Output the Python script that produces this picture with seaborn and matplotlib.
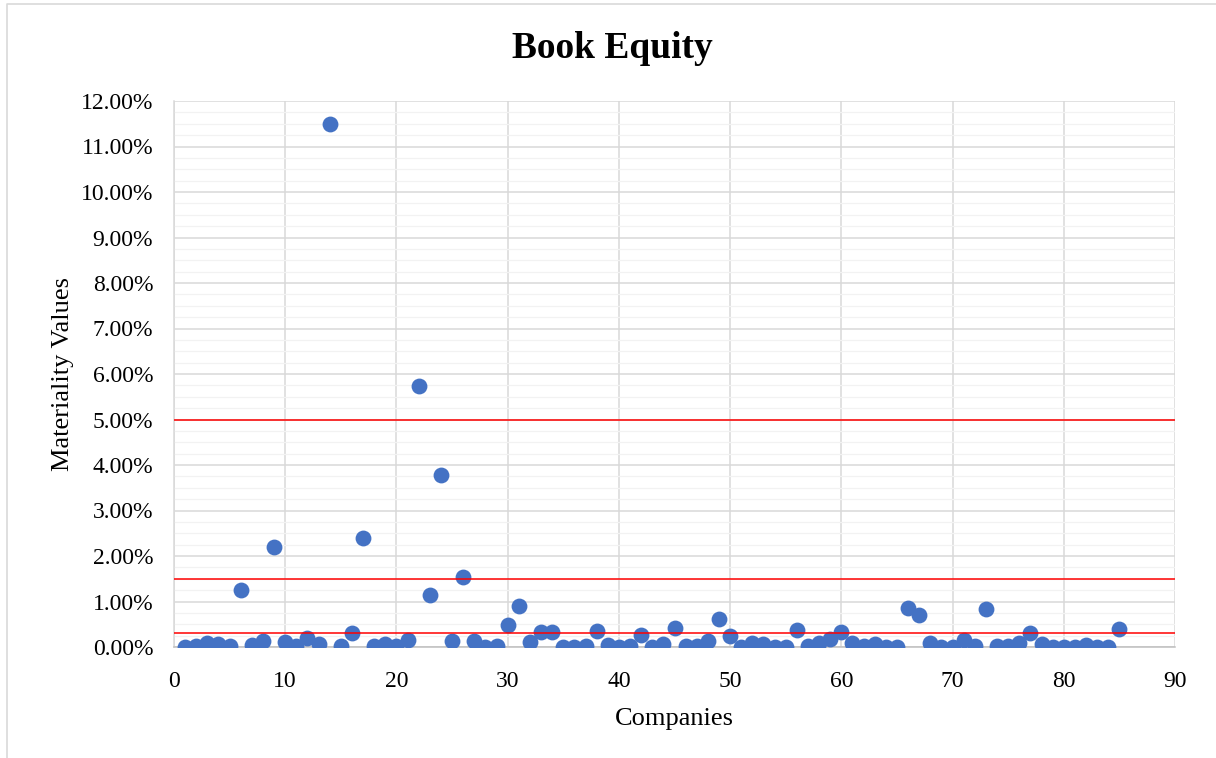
import numpy as np
import pandas as pd
import matplotlib
matplotlib.use("Agg")
import matplotlib.pyplot as plt
from matplotlib.ticker import MultipleLocator, PercentFormatter
from matplotlib.lines import Line2D
import seaborn as sns

# Company index and book-equity materiality values (in percent)
companies = list(range(1, 86))
materiality = [
    0.01, 0.03, 0.09, 0.06, 0.03, 1.25, 0.04, 0.13, 2.20, 0.10,
    0.03, 0.19, 0.06, 11.50, 0.03, 0.31, 2.40, 0.03, 0.07, 0.03,
    0.16, 5.74, 1.14, 3.79, 0.14, 1.53, 0.14, 0.01, 0.02, 0.49,
    0.91, 0.11, 0.33, 0.33, 0.01, 0.01, 0.02, 0.36, 0.05, 0.01,
    0.02, 0.26, 0.01, 0.06, 0.42, 0.02, 0.03, 0.14, 0.61, 0.24,
    0.01, 0.08, 0.06, 0.01, 0.01, 0.37, 0.02, 0.09, 0.17, 0.32,
    0.09, 0.03, 0.07, 0.01, 0.01, 0.85, 0.70, 0.08, 0.01, 0.01,
    0.16, 0.02, 0.83, 0.02, 0.03, 0.09, 0.30, 0.07, 0.01, 0.01,
    0.01, 0.04, 0.01, 0.01, 0.40,
]
# Materiality thresholds (percent)
thresholds = [5.0, 1.5, 0.3]

df = pd.DataFrame({"Companies": companies, "Materiality": materiality})

sns.set_theme(style="white")
plt.rcParams["font.family"] = ["Liberation Serif", "DejaVu Serif"]
plt.rcParams["text.color"] = "black"
plt.rcParams["axes.labelcolor"] = "black"

fig = plt.figure(figsize=(12.16, 7.58), dpi=100)
ax = fig.add_axes([174 / 1216, 1 - 647 / 758, (1175 - 174) / 1216, (647 - 101) / 758])

# gridlines
ax.set_axisbelow(True)
ax.xaxis.set_major_locator(MultipleLocator(10))
ax.yaxis.set_major_locator(MultipleLocator(1.0))
ax.yaxis.set_minor_locator(MultipleLocator(0.25))
ax.grid(which="minor", axis="y", color="#F2F2F2", linewidth=0.9, zorder=0)
ax.grid(which="major", axis="both", color="#D9D9D9", linewidth=1.1, zorder=0.5)

sns.scatterplot(data=df, x="Companies", y="Materiality", ax=ax,
                color="#4472C4", s=130, linewidth=0, zorder=3, legend=False)

for t in thresholds:
    ax.axhline(t, color="#FF0000", linewidth=1.1, zorder=4)

ax.set_xlim(0, 90)
ax.set_ylim(0, 12)
ax.yaxis.set_major_formatter(PercentFormatter(xmax=100, decimals=2))

for side in ["top", "right"]:
    ax.spines[side].set_visible(False)
ax.spines["left"].set_color("#D9D9D9")
ax.spines["left"].set_linewidth(1.1)
ax.spines["bottom"].set_color("#BFBFBF")
ax.spines["bottom"].set_linewidth(1.1)

ax.tick_params(axis="both", which="both", length=0, labelsize=17, colors="black")
ax.tick_params(axis="y", pad=15)
ax.tick_params(axis="x", pad=17)

ax.set_xlabel("Companies", fontsize=19, labelpad=12)
ax.set_ylabel("Materiality Values", fontsize=19, labelpad=5)

fig.text(612 / 1216, 1 - 48 / 758, "Book Equity", ha="center", va="center",
         fontsize=27, fontweight="bold", color="black")

# chart-area frame
fig.add_artist(Line2D([7 / 1216, 7 / 1216, 1.0], [0.0, 1 - 4 / 758, 1 - 4 / 758],
                      transform=fig.transFigure, color="#D9D9D9", linewidth=1.2))

fig.savefig("out.png", dpi=100, facecolor="white")
